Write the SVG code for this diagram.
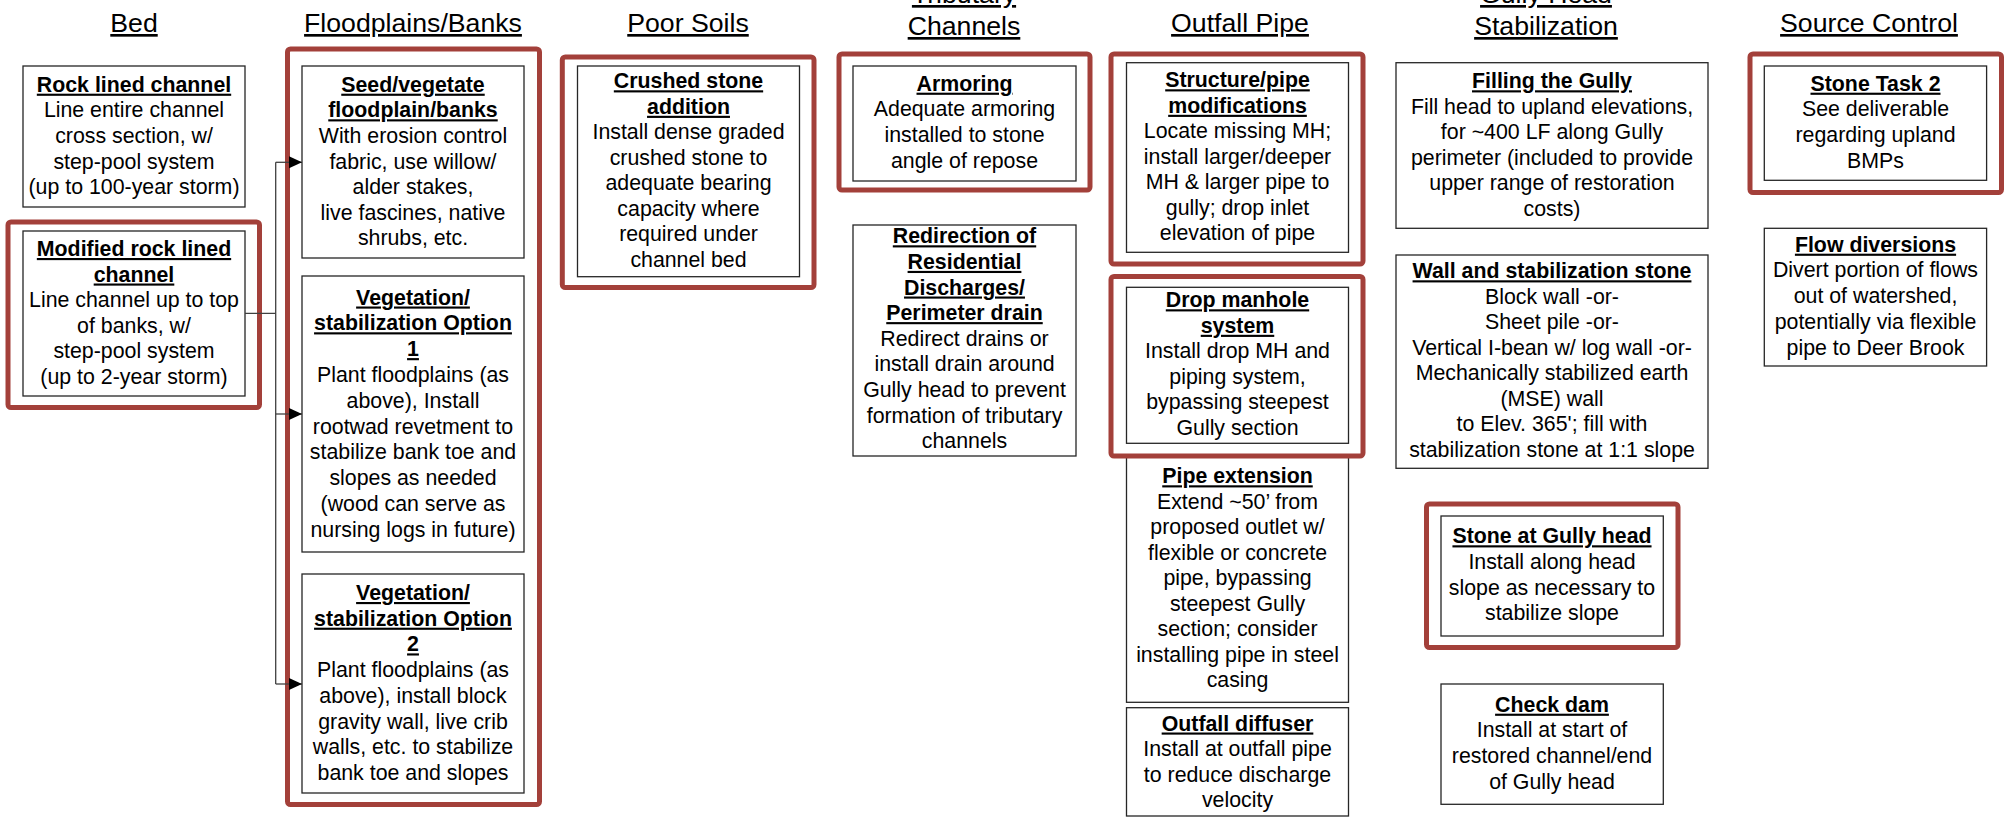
<svg xmlns="http://www.w3.org/2000/svg" width="2007" height="817" viewBox="0 0 2007 817">
<style>
text{font-family:"Liberation Sans",Arial,Helvetica,sans-serif;font-size:21.33px;text-anchor:middle;fill:#000}
.b{font-weight:bold;text-decoration:underline}
.h{font-size:26.67px;text-decoration:underline}
.box{fill:#fff;stroke:#262626;stroke-width:1.3}
.red{fill:none;stroke:#A3403A;stroke-width:5}
.conn{fill:none;stroke:#404040;stroke-width:1.3}
</style>
<defs>
<marker id="arr" markerUnits="userSpaceOnUse" markerWidth="14" markerHeight="13" refX="13" refY="6" orient="auto">
<path d="M0,0 L13,6 L0,12 z" fill="#000"/>
</marker>
</defs>
<rect width="2007" height="817" fill="#fff"/>
<g id="titles">
<text class="h" x="134" y="32">Bed</text>
<text class="h" x="413" y="32">Floodplains/Banks</text>
<text class="h" x="688" y="32">Poor Soils</text>
<text class="h" x="964" y="3">Tributary</text>
<text class="h" x="964" y="35">Channels</text>
<text class="h" x="1240" y="32">Outfall Pipe</text>
<text class="h" x="1546" y="3">Gully Head</text>
<text class="h" x="1546" y="35">Stabilization</text>
<text class="h" x="1869" y="32">Source Control</text>
</g>
<g id="rock-lined">
<rect class="box" x="23" y="66" width="222" height="141"/>
<text x="134"><tspan class="b" x="134" y="91.7">Rock lined channel</tspan><tspan x="134" y="117.3">Line entire channel</tspan><tspan x="134" y="142.9">cross section, w/</tspan><tspan x="134" y="168.5">step-pool system</tspan><tspan x="134" y="194.1">(up to 100-year storm)</tspan></text>
</g>
<g id="modified-rock-lined">
<rect class="box" x="23" y="231" width="222" height="165"/>
<text x="134"><tspan class="b" x="134" y="256">Modified rock lined</tspan><tspan class="b" x="134" y="281.5">channel</tspan><tspan x="134" y="307">Line channel up to top</tspan><tspan x="134" y="332.5">of banks, w/</tspan><tspan x="134" y="358">step-pool system</tspan><tspan x="134" y="383.5">(up to 2-year storm)</tspan></text>
</g>
<g id="seed-vegetate">
<rect class="box" x="302" y="66" width="222" height="192"/>
<text x="413"><tspan class="b" x="413" y="91.7">Seed/vegetate</tspan><tspan class="b" x="413" y="117.3">floodplain/banks</tspan><tspan x="413" y="142.9">With erosion control</tspan><tspan x="413" y="168.5">fabric, use willow/</tspan><tspan x="413" y="194.1">alder stakes,</tspan><tspan x="413" y="219.7">live fascines, native</tspan><tspan x="413" y="245.3">shrubs, etc.</tspan></text>
</g>
<g id="veg-option-1">
<rect class="box" x="302" y="276" width="222" height="276"/>
<text x="413"><tspan class="b" x="413" y="304.5">Vegetation/</tspan><tspan class="b" x="413" y="330.3">stabilization Option</tspan><tspan class="b" x="413" y="356.1">1</tspan><tspan x="413" y="381.9">Plant floodplains (as</tspan><tspan x="413" y="407.7">above), Install</tspan><tspan x="413" y="433.5">rootwad revetment to</tspan><tspan x="413" y="459.3">stabilize bank toe and</tspan><tspan x="413" y="485.1">slopes as needed</tspan><tspan x="413" y="510.9">(wood can serve as</tspan><tspan x="413" y="536.7">nursing logs in future)</tspan></text>
</g>
<g id="veg-option-2">
<rect class="box" x="302" y="574" width="222" height="219"/>
<text x="413"><tspan class="b" x="413" y="600">Vegetation/</tspan><tspan class="b" x="413" y="625.7">stabilization Option</tspan><tspan class="b" x="413" y="651.4">2</tspan><tspan x="413" y="677.1">Plant floodplains (as</tspan><tspan x="413" y="702.8">above), install block</tspan><tspan x="413" y="728.5">gravity wall, live crib</tspan><tspan x="413" y="754.2">walls, etc. to stabilize</tspan><tspan x="413" y="779.9">bank toe and slopes</tspan></text>
</g>
<g id="crushed-stone">
<rect class="box" x="577.5" y="66" width="222" height="210.7"/>
<text x="688.5"><tspan class="b" x="688.5" y="88.3">Crushed stone</tspan><tspan class="b" x="688.5" y="113.8">addition</tspan><tspan x="688.5" y="139.3">Install dense graded</tspan><tspan x="688.5" y="164.8">crushed stone to</tspan><tspan x="688.5" y="190.3">adequate bearing</tspan><tspan x="688.5" y="215.8">capacity where</tspan><tspan x="688.5" y="241.3">required under</tspan><tspan x="688.5" y="266.8">channel bed</tspan></text>
</g>
<g id="armoring">
<rect class="box" x="853" y="66" width="223" height="115"/>
<text x="964.5"><tspan class="b" x="964.5" y="90.7">Armoring</tspan><tspan x="964.5" y="116.3">Adequate armoring</tspan><tspan x="964.5" y="141.9">installed to stone</tspan><tspan x="964.5" y="167.5">angle of repose</tspan></text>
</g>
<g id="redirection">
<rect class="box" x="853" y="225" width="223" height="231"/>
<text x="964.5"><tspan class="b" x="964.5" y="243.3">Redirection of</tspan><tspan class="b" x="964.5" y="268.9">Residential</tspan><tspan class="b" x="964.5" y="294.5">Discharges/</tspan><tspan class="b" x="964.5" y="320.1">Perimeter drain</tspan><tspan x="964.5" y="345.7">Redirect drains or</tspan><tspan x="964.5" y="371.3">install drain around</tspan><tspan x="964.5" y="396.9">Gully head to prevent</tspan><tspan x="964.5" y="422.5">formation of tributary</tspan><tspan x="964.5" y="448.1">channels</tspan></text>
</g>
<g id="structure-pipe">
<rect class="box" x="1126.5" y="62.7" width="222" height="189.6"/>
<text x="1237.5"><tspan class="b" x="1237.5" y="87.3">Structure/pipe</tspan><tspan class="b" x="1237.5" y="112.8">modifications</tspan><tspan x="1237.5" y="138.3">Locate missing MH;</tspan><tspan x="1237.5" y="163.8">install larger/deeper</tspan><tspan x="1237.5" y="189.3">MH &amp; larger pipe to</tspan><tspan x="1237.5" y="214.8">gully; drop inlet</tspan><tspan x="1237.5" y="240.3">elevation of pipe</tspan></text>
</g>
<g id="drop-manhole">
<rect class="box" x="1126.5" y="287.3" width="222" height="156"/>
<text x="1237.5"><tspan class="b" x="1237.5" y="307.3">Drop manhole</tspan><tspan class="b" x="1237.5" y="332.8">system</tspan><tspan x="1237.5" y="358.3">Install drop MH and</tspan><tspan x="1237.5" y="383.8">piping system,</tspan><tspan x="1237.5" y="409.3">bypassing steepest</tspan><tspan x="1237.5" y="434.8">Gully section</tspan></text>
</g>
<g id="pipe-extension">
<rect class="box" x="1126.5" y="456" width="222" height="246.3"/>
<text x="1237.5"><tspan class="b" x="1237.5" y="483.3">Pipe extension</tspan><tspan x="1237.5" y="508.8">Extend ~50’ from</tspan><tspan x="1237.5" y="534.3">proposed outlet w/</tspan><tspan x="1237.5" y="559.8">flexible or concrete</tspan><tspan x="1237.5" y="585.3">pipe, bypassing</tspan><tspan x="1237.5" y="610.8">steepest Gully</tspan><tspan x="1237.5" y="636.3">section; consider</tspan><tspan x="1237.5" y="661.8">installing pipe in steel</tspan><tspan x="1237.5" y="687.3">casing</tspan></text>
</g>
<g id="outfall-diffuser">
<rect class="box" x="1126.5" y="707.7" width="222" height="108.3"/>
<text x="1237.5"><tspan class="b" x="1237.5" y="730.5">Outfall diffuser</tspan><tspan x="1237.5" y="756">Install at outfall pipe</tspan><tspan x="1237.5" y="781.5">to reduce discharge</tspan><tspan x="1237.5" y="807">velocity</tspan></text>
</g>
<g id="filling-gully">
<rect class="box" x="1396" y="62.7" width="312" height="165.6"/>
<text x="1552"><tspan class="b" x="1552" y="88.3">Filling the Gully</tspan><tspan x="1552" y="113.8">Fill head to upland elevations,</tspan><tspan x="1552" y="139.3">for ~400 LF along Gully</tspan><tspan x="1552" y="164.8">perimeter (included to provide</tspan><tspan x="1552" y="190.3">upper range of restoration</tspan><tspan x="1552" y="215.8">costs)</tspan></text>
</g>
<g id="wall-stone">
<rect class="box" x="1396" y="255" width="312" height="213.3"/>
<text x="1552"><tspan class="b" x="1552" y="278.3">Wall and stabilization stone</tspan><tspan x="1552" y="303.8">Block wall -or-</tspan><tspan x="1552" y="329.3">Sheet pile -or-</tspan><tspan x="1552" y="354.8">Vertical I-bean w/ log wall -or-</tspan><tspan x="1552" y="380.3">Mechanically stabilized earth</tspan><tspan x="1552" y="405.8">(MSE) wall</tspan><tspan x="1552" y="431.3">to Elev. 365'; fill with</tspan><tspan x="1552" y="456.8">stabilization stone at 1:1 slope</tspan></text>
</g>
<g id="stone-gully-head">
<rect class="box" x="1441" y="516" width="222.3" height="120"/>
<text x="1552"><tspan class="b" x="1552" y="543.3">Stone at Gully head</tspan><tspan x="1552" y="569">Install along head</tspan><tspan x="1552" y="594.7">slope as necessary to</tspan><tspan x="1552" y="620.4">stabilize slope</tspan></text>
</g>
<g id="check-dam">
<rect class="box" x="1441" y="684" width="222.3" height="120.3"/>
<text x="1552"><tspan class="b" x="1552" y="711.7">Check dam</tspan><tspan x="1552" y="737.3">Install at start of</tspan><tspan x="1552" y="762.9">restored channel/end</tspan><tspan x="1552" y="788.5">of Gully head</tspan></text>
</g>
<g id="stone-task-2">
<rect class="box" x="1764.3" y="66" width="222.3" height="114.3"/>
<text x="1875.5"><tspan class="b" x="1875.5" y="90.7">Stone Task 2</tspan><tspan x="1875.5" y="116.3">See deliverable</tspan><tspan x="1875.5" y="141.9">regarding upland</tspan><tspan x="1875.5" y="167.5">BMPs</tspan></text>
</g>
<g id="flow-diversions">
<rect class="box" x="1764.3" y="228.3" width="222.3" height="137.7"/>
<text x="1875.5"><tspan class="b" x="1875.5" y="251.7">Flow diversions</tspan><tspan x="1875.5" y="277.4">Divert portion of flows</tspan><tspan x="1875.5" y="303.1">out of watershed,</tspan><tspan x="1875.5" y="328.8">potentially via flexible</tspan><tspan x="1875.5" y="354.5">pipe to Deer Brook</tspan></text>
</g>
<g id="highlights">
<rect class="red" x="8" y="222" width="251.5" height="185.5" rx="3"/>
<rect class="red" x="287.5" y="49" width="252" height="755.5" rx="3"/>
<rect class="red" x="562.3" y="57" width="251.7" height="230.5" rx="3"/>
<rect class="red" x="839" y="54" width="251" height="136" rx="3"/>
<rect class="red" x="1111" y="54" width="252" height="210" rx="3"/>
<rect class="red" x="1111" y="276.5" width="252" height="179.5" rx="3"/>
<rect class="red" x="1426.5" y="504" width="251.5" height="143.5" rx="3"/>
<rect class="red" x="1750" y="54" width="251.5" height="138.5" rx="3"/>
</g>
<g id="connectors">
<path class="conn" d="M245,313.3 H275.7 M275.7,162.3 V684"/>
<path class="conn" d="M275.7,162.3 H302" marker-end="url(#arr)"/>
<path class="conn" d="M275.7,414 H302" marker-end="url(#arr)"/>
<path class="conn" d="M275.7,684 H302" marker-end="url(#arr)"/>
</g>
</svg>
